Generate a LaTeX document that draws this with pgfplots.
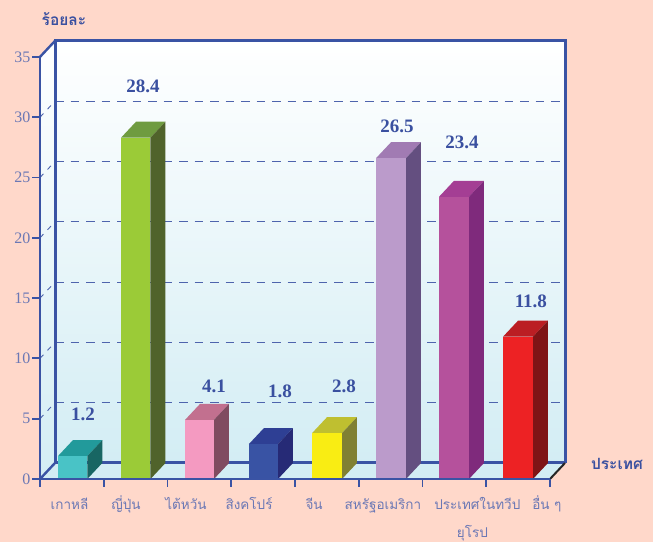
\documentclass[border=0pt]{standalone}
\usepackage{pgfplots}
\usepackage{fontspec}
\pgfplotsset{compat=1.18}
\setmainfont{Liberation Serif}
\newfontfamily\thaifont[Script=Thai]{Loma}
\definecolor{bgc}{HTML}{FFD8CA}
\definecolor{axc}{HTML}{3A53A4}
\definecolor{txtc}{HTML}{6B78B5}
\definecolor{valc}{HTML}{3A50A0}
\definecolor{wallb}{HTML}{D3EDF4}
\definecolor{af}{HTML}{49C3C6}\definecolor{at}{HTML}{229A9B}\definecolor{as}{HTML}{186663}
\definecolor{bf}{HTML}{9BCB37}\definecolor{bt}{HTML}{6F9B40}\definecolor{bs}{HTML}{50632B}
\definecolor{cf}{HTML}{F49AC1}\definecolor{ct}{HTML}{C2708F}\definecolor{cs}{HTML}{804B60}
\definecolor{df}{HTML}{3953A4}\definecolor{dt}{HTML}{2E3F94}\definecolor{ds}{HTML}{262A76}
\definecolor{ef}{HTML}{F9ED13}\definecolor{et}{HTML}{BFBF30}\definecolor{es}{HTML}{808033}
\definecolor{ff}{HTML}{BB9BCB}\definecolor{ft}{HTML}{A17BB3}\definecolor{fs}{HTML}{644F80}
\definecolor{gf}{HTML}{B5519C}\definecolor{gt}{HTML}{A43E94}\definecolor{gs}{HTML}{7F2A7C}
\definecolor{hf}{HTML}{ED2224}\definecolor{ht}{HTML}{BB1E23}\definecolor{hs}{HTML}{7F1416}
\newcommand{\threedbar}[6]{% x0 x1 h front top side
  \addplot[fill=#5,draw=none,forget plot] coordinates {(#1,#3) (#2,#3) ({#2+0.2353},{#3+1.327}) ({#1+0.2353},{#3+1.327})} -- cycle;
  \addplot[fill=#6,draw=none,forget plot] coordinates {(#2,0) (#2,#3) ({#2+0.2353},{#3+1.327}) ({#2+0.2353},1.327)} -- cycle;
  \addplot[fill=#4,draw=none,forget plot] coordinates {(#1,0) (#2,0) (#2,#3) (#1,#3)} -- cycle;
}
\newcommand{\lh}{\rule{0pt}{16pt}}
\begin{document}
\begin{tikzpicture}
\begin{axis}[
  x=63.75pt, y=12.06pt,
  xmin=0, xmax=8.2353, ymin=0, ymax=36.327,
  clip=false, axis on top=true,
  axis line style={draw=none},
  tick pos=left, tick align=outside,
  xtick={0,1,2,3,4,5,6,7,8}, xticklabels={},
  ytick={0,5,10,15,20,25,30,35},
  y tick label style={font=\fontsize{16}{16}\selectfont, text=txtc, xshift=2pt},
  /pgf/number format/assume math mode=true,
  x tick style={axc, line width=1.8pt},
  y tick style={axc, line width=1.8pt},
  major tick length=8pt,
  extra x ticks={0.463,1.35,2.29,3.28,4.30,5.38,6.86,7.95},
  extra x tick labels={\lh เกาหลี,\lh ญี่ปุ่น,\lh ไต้หวัน,\lh สิงคโปร์,\lh จีน,\lh สหรัฐอเมริกา,{\lh ประเทศในทวีป\\[12pt]ยุโรป\hspace*{10pt}},\lh อื่น ๆ},
  extra x tick style={major tick length=0pt, tick style={draw=none},
    xticklabel style={font=\thaifont\fontsize{13.5}{16}\selectfont, text=txtc, align=center, anchor=north, yshift=-11pt}},
]
% page and walls
\fill[bgc] (axis cs:-0.6275,-5.224) rectangle (axis cs:9.6157,39.718);
\fill[top color=white,bottom color=wallb] (axis cs:0.2353,1.327) rectangle (axis cs:8.2353,36.327);
\fill[top color=white,bottom color=wallb] (axis cs:0,0) -- (axis cs:0.2353,1.327) -- (axis cs:0.2353,36.327) -- (axis cs:0,35) -- cycle;
\fill[wallb] (axis cs:0,0) -- (axis cs:8,0) -- (axis cs:8.2353,1.327) -- (axis cs:0.2353,1.327) -- cycle;
% grid on the back wall
\pgfplotsinvokeforeach{5,10,15,20,25,30}{
  \addplot[axc!90!white,line width=0.9pt,dash pattern=on 8.5pt off 7pt,forget plot] coordinates {(0.2353,{#1+1.327}) (8.2353,{#1+1.327})};
  \addplot[axc!90!white,line width=0.9pt,dash pattern=on 5pt off 6pt,forget plot] coordinates {(0,#1) (0.2353,{#1+1.327})};
}
% frame behind bars
\addplot[axc,line width=3pt,forget plot] coordinates {(0.2353,1.327) (8.2353,1.327)};
\addplot[axc,line width=3pt,forget plot] coordinates {(0.2353,1.327) (0.2353,36.327) (8.2353,36.327) (8.2353,1.327)};
\addplot[axc,line width=2.4pt,forget plot] coordinates {(0,35) (0.2353,36.327)};
\addplot[axc,line width=2.4pt,forget plot] coordinates {(0,0) (0.2353,1.327)};
\addplot[black!85,line width=2pt,forget plot] coordinates {(8,0) (8.2353,1.327)};
\addplot[axc,line width=2.5pt,forget plot] coordinates {(0,0) (0,35)};
% bars
\threedbar{0.282}{0.742}{1.9}{af}{at}{as}
\threedbar{1.271}{1.733}{28.3}{bf}{bt}{bs}
\threedbar{2.275}{2.729}{4.9}{cf}{ct}{cs}
\threedbar{3.278}{3.733}{2.9}{df}{dt}{ds}
\threedbar{4.267}{4.737}{3.8}{ef}{et}{es}
\threedbar{5.271}{5.741}{26.6}{ff}{ft}{fs}
\threedbar{6.259}{6.729}{23.4}{gf}{gt}{gs}
\threedbar{7.263}{7.733}{11.8}{hf}{ht}{hs}
% front axis
\addplot[axc,line width=2.2pt,forget plot] coordinates {(0,0) (8,0)};
% value labels
\addplot[only marks,mark size=0pt,forget plot,nodes near coords,point meta=explicit symbolic,
  every node near coord/.style={anchor=center,font=\bfseries\fontsize{19}{19}\selectfont,text=valc,inner sep=0pt}]
  table[meta=label]{
x y label
0.675 5.4 1.2
1.616 32.59 28.4
2.729 7.72 4.1
3.765 7.3 1.8
4.769 7.72 2.8
5.6 29.28 26.5
6.62 27.95 23.4
7.70 14.77 11.8
};
% axis titles
\node[font=\thaifont\bfseries\fontsize{15.5}{15.5}\selectfont,text=valc] at (axis cs:0.376,38.1) {ร้อยละ};
\node[font=\thaifont\bfseries\fontsize{15.5}{15.5}\selectfont,text=valc] at (axis cs:9.05,1.25) {ประเทศ};
\end{axis}
\end{tikzpicture}
\end{document}
